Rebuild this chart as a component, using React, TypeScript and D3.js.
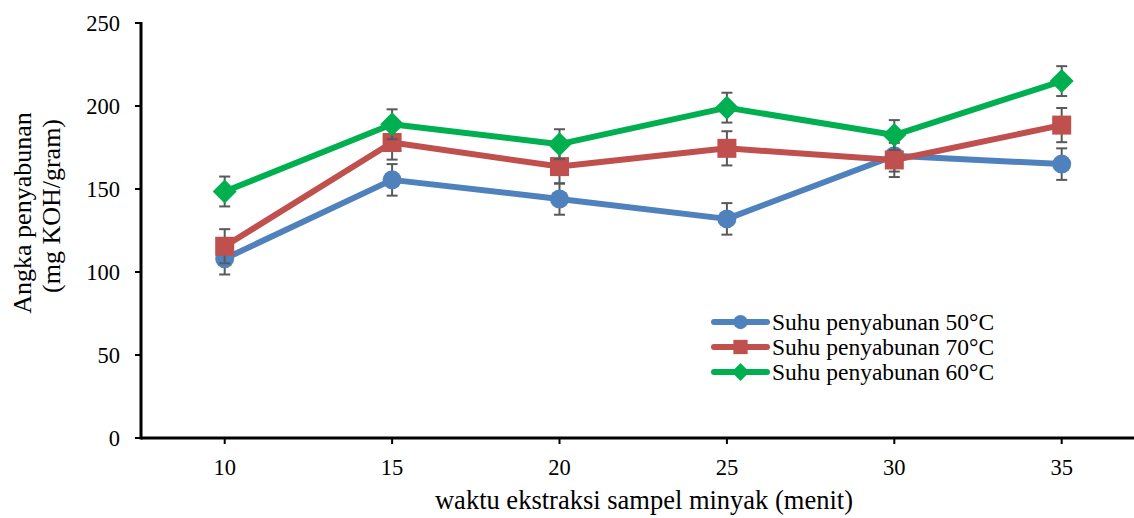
import React, { useEffect, useRef } from 'react';
import * as d3 from 'd3';

const categories = ['10', '15', '20', '25', '30', '35'];
const yTicks = [0, 50, 100, 150, 200, 250];

const seriesNames = ['Suhu penyabunan 50°C', 'Suhu penyabunan 70°C', 'Suhu penyabunan 60°C'];
const values50 = [108, 155.5, 144, 132, 170, 165];
const values70 = [115.5, 178, 163.5, 174.5, 167.5, 188.5];
const values60 = [148.5, 189, 177, 199, 182.5, 215];
const errors50 = [9.5, 9.5, 9.5, 9.5, 9.5, 9.5];
const errors70 = [10.3, 10.3, 10.3, 10.3, 10.3, 10.3];
const errors60 = [9, 9, 9, 9, 9, 9];

const colors = ['#4F81BD', '#C0504D', '#00B050'];
const markers = ['circle', 'square', 'diamond'];

const W = 1134;
const H = 518;
const FONT = "'Liberation Serif', 'Times New Roman', Times, serif";

export default function App() {
  const svgRef = useRef<SVGSVGElement>(null);

  useEffect(() => {
    if (!svgRef.current) return;
    document.body.style.margin = '0';
    const svg = d3.select(svgRef.current);
    svg.selectAll('*').remove();

    const left = 141;
    const step = 167.4;
    const x = d3.scalePoint<string>()
      .domain(categories)
      .range([left, left + categories.length * step])
      .padding(0.5);
    const y = d3.scaleLinear().domain([0, 250]).range([438, 23]);

    const series = [
      { name: seriesNames[0], values: values50, errors: errors50, color: colors[0], marker: markers[0] },
      { name: seriesNames[1], values: values70, errors: errors70, color: colors[1], marker: markers[1] },
      { name: seriesNames[2], values: values60, errors: errors60, color: colors[2], marker: markers[2] },
    ];

    const drawMarker = (g: any, type: string, cx: number, cy: number, color: string, scale = 1) => {
      if (type === 'circle') {
        g.append('circle').attr('cx', cx).attr('cy', cy).attr('r', 9.5 * scale).attr('fill', color);
      } else if (type === 'square') {
        const s = 19 * scale;
        g.append('rect').attr('x', cx - s / 2).attr('y', cy - s / 2).attr('width', s).attr('height', s).attr('fill', color);
      } else {
        const d = 12 * scale;
        g.append('path')
          .attr('d', `M${cx},${cy - d}L${cx + d},${cy}L${cx},${cy + d}L${cx - d},${cy}Z`)
          .attr('fill', color);
      }
    };

    const plot = svg.append('g');

    series.forEach(s => {
      // error bars
      s.values.forEach((v, i) => {
        const cx = x(categories[i])!;
        const y0 = y(v - s.errors[i]);
        const y1 = y(v + s.errors[i]);
        plot.append('line').attr('x1', cx).attr('x2', cx).attr('y1', y0).attr('y2', y1)
          .attr('stroke', '#595959').attr('stroke-width', 2);
        [y0, y1].forEach(yy => {
          plot.append('line').attr('x1', cx - 5.5).attr('x2', cx + 5.5).attr('y1', yy).attr('y2', yy)
            .attr('stroke', '#595959').attr('stroke-width', 2);
        });
      });

      const line = d3.line<number>()
        .x((_, i) => x(categories[i])!)
        .y(d => y(d));
      plot.append('path')
        .datum(s.values)
        .attr('d', line)
        .attr('fill', 'none')
        .attr('stroke', s.color)
        .attr('stroke-width', 6)
        .attr('stroke-linejoin', 'round');

      s.values.forEach((v, i) => drawMarker(plot, s.marker, x(categories[i])!, y(v), s.color));
    });

    // axes
    const axisG = svg.append('g');
    axisG.append('line').attr('x1', left).attr('x2', W).attr('y1', y(0)).attr('y2', y(0))
      .attr('stroke', '#000').attr('stroke-width', 3);
    axisG.append('line').attr('x1', left).attr('x2', left).attr('y1', y(250) - 1).attr('y2', y(0) + 1.5)
      .attr('stroke', '#000').attr('stroke-width', 3);

    yTicks.forEach(t => {
      axisG.append('line').attr('x1', 135).attr('x2', left).attr('y1', y(t)).attr('y2', y(t))
        .attr('stroke', '#000').attr('stroke-width', 2);
      axisG.append('text')
        .attr('x', 120).attr('y', y(t)).attr('dy', '0.35em')
        .attr('text-anchor', 'end')
        .style('font-family', FONT).style('font-size', '22.5px')
        .text(t);
    });

    categories.forEach(c => {
      const cx = x(c)!;
      axisG.append('line').attr('x1', cx).attr('x2', cx).attr('y1', y(0)).attr('y2', y(0) + 6)
        .attr('stroke', '#000').attr('stroke-width', 2);
      axisG.append('text')
        .attr('x', cx).attr('y', 475)
        .attr('text-anchor', 'middle')
        .style('font-family', FONT).style('font-size', '22.5px')
        .text(c);
    });

    // axis titles
    svg.append('text')
      .attr('x', 644).attr('y', 509)
      .attr('text-anchor', 'middle')
      .style('font-family', FONT).style('font-size', '26.5px')
      .text('waktu ekstraksi sampel minyak (menit)');

    const yTitle = svg.append('text')
      .attr('transform', 'rotate(-90)')
      .attr('text-anchor', 'middle')
      .style('font-family', FONT).style('font-size', '26px');
    yTitle.append('tspan').attr('x', -213).attr('y', 31).text('Angka penyabunan');
    yTitle.append('tspan').attr('x', -206).attr('y', 60).text('(mg KOH/gram)');

    // legend
    const legend = svg.append('g');
    series.forEach((s, i) => {
      const ly = 322 + i * 25;
      legend.append('line').attr('x1', 714).attr('x2', 767).attr('y1', ly).attr('y2', ly)
        .attr('stroke', s.color).attr('stroke-width', 6).attr('stroke-linecap', 'round');
      drawMarker(legend, s.marker, 740.5, ly, s.color, 0.75);
      legend.append('text')
        .attr('x', 772).attr('y', ly).attr('dy', '0.35em')
        .style('font-family', FONT).style('font-size', '23.5px')
        .text(s.name);
    });
  }, []);

  return (
    <svg
      ref={svgRef}
      width={W}
      height={H}
      style={{ display: 'block', background: '#fff' }}
    />
  );
}
